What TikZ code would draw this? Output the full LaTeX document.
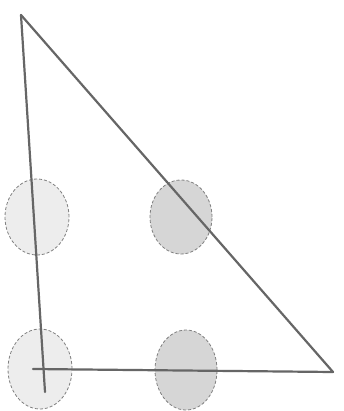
\documentclass[tikz,border=0pt]{standalone}
\usetikzlibrary{shapes.geometric}
\begin{document}
\begin{tikzpicture}[x=1pt,y=-1pt,
  blob/.style={ellipse,draw=black!50,densely dashed,line width=0.8pt,inner sep=0pt},
  blobdark/.style={blob,fill=black!16},
  bloblight/.style={blob,fill=black!7},
  edge/.style={draw=black!60,line width=2.2pt,line cap=round}]
\useasboundingbox (0,0) rectangle (343,411);
\fill[white] (0,0) rectangle (343,411);
\node[bloblight,minimum width=64pt,minimum height=76pt] (e1) at (37,217) {};
\node[blobdark,minimum width=62pt,minimum height=74pt] (e2) at (181,217) {};
\node[bloblight,minimum width=64pt,minimum height=80pt] (e3) at (40,369) {};
\node[blobdark,minimum width=62pt,minimum height=80pt] (e4) at (186,370) {};
\coordinate (top) at (21,15);
\coordinate (bl) at (45,392);
\coordinate (hs) at (33,369);
\coordinate (br) at (333,372);
\draw[edge] (top) -- (bl);
\draw[edge] (top) -- (br);
\draw[edge] (hs) -- (br);
\end{tikzpicture}
\end{document}
